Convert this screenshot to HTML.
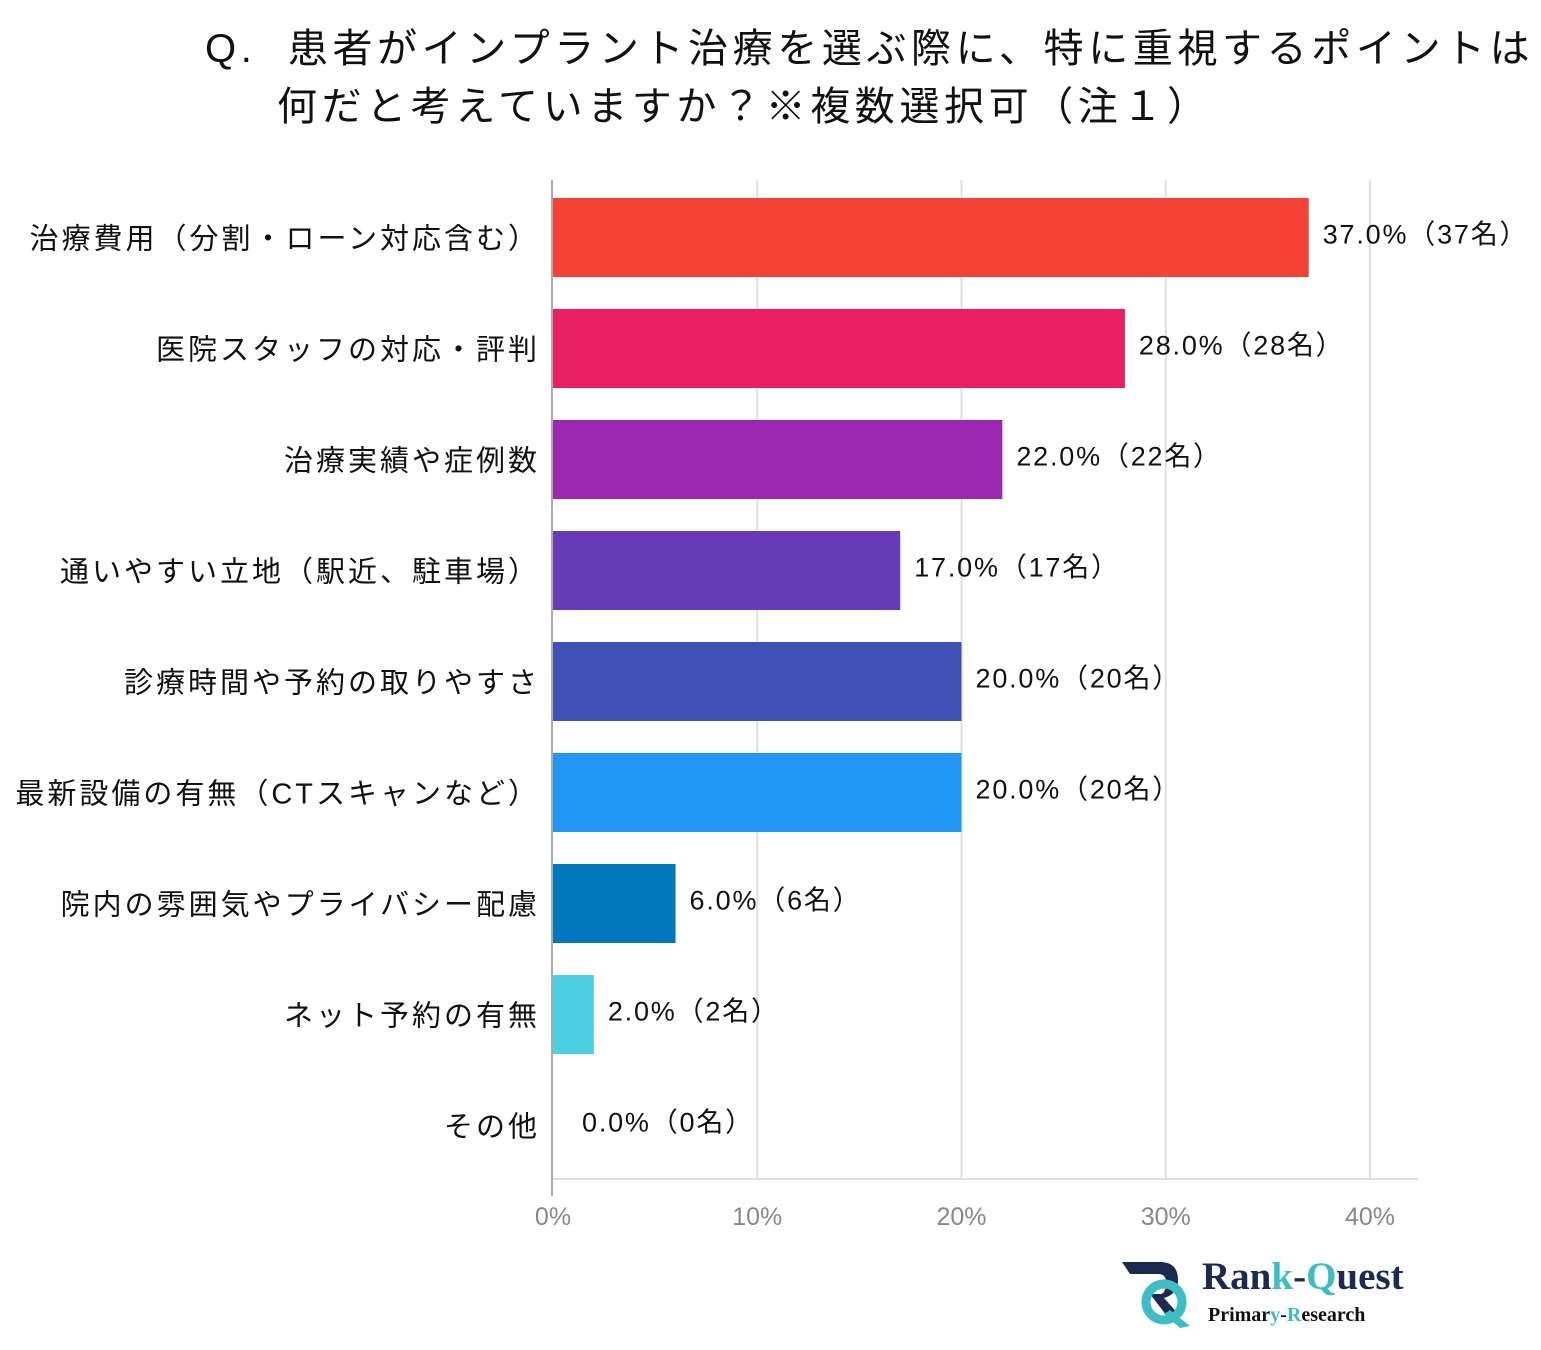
<!DOCTYPE html>
<html><head><meta charset="utf-8">
<style>
body{margin:0;background:#fff;width:1541px;height:1350px;overflow:hidden;font-family:"Liberation Sans","Noto Sans CJK JP",sans-serif;}
.title{position:absolute;left:205px;top:20px;font-size:40px;line-height:58px;color:#111;white-space:nowrap;letter-spacing:4.6px;}
</style></head><body>
<div class="title">Q.&nbsp; 患者がインプラント治療を選ぶ際に、特に重視するポイントは<br><span style="padding-left:72px">何だと考えていますか？※複数選択可（注１）</span></div>
<svg id="chart" width="1541" height="1350" style="position:absolute;left:0;top:0"></svg>
<div style="position:absolute;left:1120px;top:1258px;width:300px;height:75px;">
<svg width="80" height="72" style="position:absolute;left:0;top:0">
<path d="M2 4 H40 Q58 4 58 22 Q58 36 44 40 L60 58 L50 62 L30 36 H40 Q46 36 46 24 Q46 16 38 16 H10 Z" fill="#1b2a4e"/>
<circle cx="44" cy="44" r="18" fill="none" stroke="#3fbdc4" stroke-width="9"/>
<path d="M50 52 L70 68 L60 70 L44 56 Z" fill="#3fbdc4"/>
</svg>
<div style="position:absolute;left:82px;top:-4px;font-family:'Liberation Serif',serif;font-weight:bold;font-size:39px;color:#1b2a4e;white-space:nowrap">Ran<span style="color:#3fbdc4">k</span>-<span style="color:#3fbdc4">Q</span>uest</div>
<div style="position:absolute;left:88px;top:46px;font-family:'Liberation Serif',serif;font-weight:bold;font-size:20px;color:#111;white-space:nowrap">Primar<span style="color:#3fbdc4">y</span>-<span style="color:#3fbdc4">R</span>esearch</div>
</div>
<script>
const categories=["治療費用（分割・ローン対応含む）","医院スタッフの対応・評判","治療実績や症例数","通いやすい立地（駅近、駐車場）","診療時間や予約の取りやすさ","最新設備の有無（CTスキャンなど）","院内の雰囲気やプライバシー配慮","ネット予約の有無","その他"];
const values=[37,28,22,17,20,20,6,2,0];
const counts=[37,28,22,17,20,20,6,2,0];
const tickLabels=["0%","10%","20%","30%","40%"];
const tickValues=[0,10,20,30,40];
const colors=["#F44336","#E91E63","#9C27B0","#673AB7","#3F51B5","#2196F3","#0277BD","#4DD0E1","#26C6DA"];
const svg=document.getElementById('chart');
const NS='http://www.w3.org/2000/svg';
const x0=553,x1=1370,maxV=40;
const xs=v=>x0+(x1-x0)*v/maxV;
const top0=198,pitch=111,bh=79;
const ys=i=>top0+i*pitch;
function mk(t,a){const e=document.createElementNS(NS,t);for(const k in a)e.setAttribute(k,a[k]);svg.appendChild(e);return e;}
tickValues.forEach((v,i)=>{
 if(v>0){const g=mk('line',{x1:xs(v),x2:xs(v),y1:180,y2:1180,stroke:'#e0e0e0','stroke-width':2});
 
 }
 const t=mk('text',{x:xs(v),y:1225,'text-anchor':'middle','font-size':25,fill:'#888'});
 t.textContent=tickLabels[i];
 
 
});
const hx=mk('line',{x1:x0,x2:1418,y1:1179,y2:1179,stroke:'#e0e0e0','stroke-width':2});


categories.forEach((c,i)=>{
 const y=ys(i);
 const r=mk('rect',{x:x0,y:y,width:xs(values[i])-x0,height:bh,fill:colors[i]});
 
 
 const l=mk('text',{x:540,y:y+bh/2+11,'text-anchor':'end','font-size':29,fill:'#111','letter-spacing':3});
 l.textContent=c;
 
 
 const vl=mk('text',{x:xs(values[i])+(values[i]>0?14:29),y:y+bh/2+6,'font-size':27,fill:'#111','letter-spacing':1.8});
 vl.textContent=values[i].toFixed(1)+"%（"+counts[i]+"名）";
 
 
});
const vx=mk('line',{x1:552,x2:552,y1:180,y2:1196,stroke:'#aaa','stroke-width':2});


</script>
</body></html>
